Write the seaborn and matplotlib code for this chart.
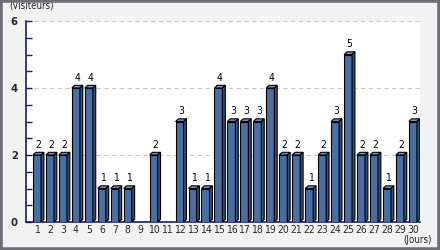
import matplotlib
matplotlib.use("Agg")
import matplotlib.pyplot as plt
import seaborn as sns
import pandas as pd
from matplotlib.patches import Polygon, Rectangle
from matplotlib.ticker import MultipleLocator

days = [str(d) for d in range(1, 31)]
visitors = [2, 2, 2, 4, 4, 1, 1, 1, 0, 2, 0, 3, 1, 1, 4, 3, 3, 3, 4, 2, 2, 1, 2, 3, 5, 2, 2, 1, 2, 3]
y_ticks = [0, 2, 4, 6]
y_label = "(Visiteurs)"
x_label = "(Jours)"

df = pd.DataFrame({"day": days, "visitors": visitors})

sns.set_theme(style="white")
plt.rcParams['font.family'] = ['DejaVu Sans']
plt.rcParams['font.stretch'] = 'condensed'

fig = plt.figure(figsize=(4.4, 2.5), dpi=100)
fig.patch.set_facecolor("#f2f2f2")
ax = fig.add_axes([26/440, 28/250, 394/440, 201/250])

front = "#4a6fa5"
sns.barplot(data=df, x="day", y="visitors", color=front, width=0.62,
            edgecolor="black", linewidth=0.8, saturation=1, ax=ax, zorder=3)

ax.set_ylim(0, 6)
ax.set_xlim(-0.85, 29.55)
ax.set_yticks(y_ticks)
ax.yaxis.set_minor_locator(MultipleLocator(0.5))
ax.grid(axis="y", color="#c8c8c8", linestyle=(0, (4, 3)), linewidth=0.8, zorder=0)
ax.set_axisbelow(True)

# 3D depth faces
dx = 0.22
dy = 0.08
for p in ax.patches:
    x0 = p.get_x(); w = p.get_width(); h = p.get_height()
    if h <= 0:
        continue
    top = Polygon([[x0, h], [x0 + dx, h + dy], [x0 + w + dx, h + dy], [x0 + w, h]],
                  closed=True, facecolor="#7593c4", edgecolor="black", linewidth=0.8, zorder=4)
    side = Polygon([[x0 + w, 0], [x0 + w, h], [x0 + w + dx, h + dy], [x0 + w + dx, dy]],
                   closed=True, facecolor="#34527f", edgecolor="black", linewidth=0.8, zorder=4)
    ax.add_patch(top); ax.add_patch(side)
    ax.text(x0 + w / 2 + dx / 2, h + dy + 0.08, f"{int(h)}", ha="center", va="bottom",
            fontsize=7.5, color="black", zorder=5)

for s in ["top", "right"]:
    ax.spines[s].set_visible(False)
ax.spines["left"].set_color("#1a1a6e")
ax.spines["bottom"].set_color("#1a1a6e")
ax.spines["left"].set_linewidth(1.2)
ax.spines["bottom"].set_linewidth(1.2)
ax.tick_params(axis="y", which="both", direction="in", color="#1a1a6e", length=4, width=1, labelsize=8, pad=6, left=True)
ax.tick_params(axis="x", length=0, labelsize=7.5, pad=2)
ax.set_xlabel("")
ax.set_ylabel("")
for lbl in ax.get_yticklabels():
    lbl.set_fontweight("bold")

fig.text(9/440, 1 - 5/250, y_label, ha="left", va="center", fontsize=7)
fig.text(417/440, 1 - 240/250, x_label, ha="center", va="center", fontsize=7)

# outer border
fig.patches.append(Rectangle((0, 0), 1, 1, transform=fig.transFigure, fill=False,
                             edgecolor="#6e6e78", linewidth=4, zorder=10))

fig.savefig("out.png", dpi=100, facecolor=fig.get_facecolor())
